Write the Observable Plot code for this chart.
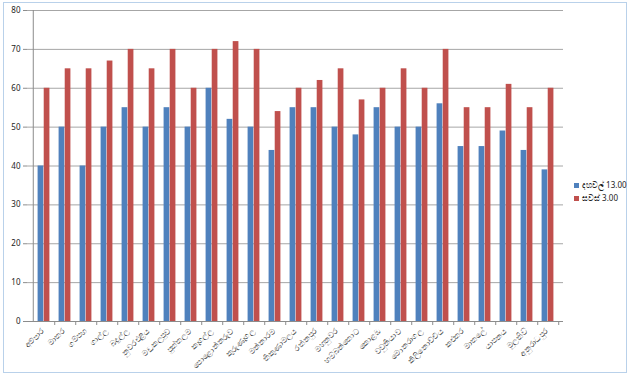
<!DOCTYPE html>
<html>
<head>
<meta charset="utf-8">
<script src="https://cdn.jsdelivr.net/npm/d3@7"></script>
<script src="https://cdn.jsdelivr.net/npm/@observablehq/plot@0.6"></script>
<style>
  html, body { margin: 0; padding: 0; background: #fff; }
  #wrap { position: relative; width: 630px; height: 378px; overflow: hidden; font-family: "Noto Sans", "DejaVu Sans", sans-serif; }
  #frame { position: absolute; left: 3px; top: 2px; right: 3px; bottom: 5px; border: 1px solid #b9d1ea; pointer-events: none; }
  #legend { position: absolute; left: 574px; top: 178px; font-size: 8px; color: #222; line-height: 13px; }
  #legend .sw { display: inline-block; width: 5px; height: 5px; margin-right: 3px; vertical-align: middle; }
</style>
</head>
<body>
<div id="wrap">
  <div id="chart"></div>
  <div id="frame"></div>
  <div id="legend"></div>
</div>
<script>
const categories = ["අම්පාර","මාතර","ගම්පහ","ගාල්ල","බදුල්ල","නුවරඑළිය","මඩකලපුව","පුත්තලම","කෑගල්ල","පොළොන්නරුව","කුරුණෑගල","මන්නාරම","තිකුණාමලය","රත්නපුර","මහනුවර","හම්බන්තොට","කොළඹ","වවුනියාව","මොනරාගල","කිලිනොච්චිය","කළුතර","මාතලේ","යාපනය","මුලතිව්","අනුරාධපුර"];
const seriesNames = ["දහවල් 13.00", "සවස් 3.00"];
const noonValues = [40,50,40,50,55,50,55,50,60,52,50,44,55,55,50,48,55,50,50,56,45,45,49,44,39];
const eveningValues = [60,65,65,67,70,65,70,60,70,72,70,54,60,62,65,57,60,65,60,70,55,55,61,55,60];
const yTicks = [0,10,20,30,40,50,60,70,80];
const colors = ["#4f81bd", "#c0504d"];

const W = 630, H = 378;
const mL = 27, mR = 67, mT = 10, mB = 57;
const step = (W - mL - mR) / categories.length;
const barW = step / 3.5;
const outer = (step - 2 * barW) / 2;

const noon = categories.map((c, i) => ({category: c, value: noonValues[i]}));
const evening = categories.map((c, i) => ({category: c, value: eveningValues[i]}));

const chart = Plot.plot({
  width: W, height: H,
  marginLeft: mL, marginRight: mR, marginTop: mT, marginBottom: mB,
  style: {fontFamily: "'Noto Sans', 'DejaVu Sans', sans-serif", fontSize: "8px", color: "#222", background: "transparent"},
  x: {type: "band", domain: categories, padding: 0, label: null},
  y: {domain: [0, 80], label: null},
  marks: [
    Plot.ruleY(yTicks.filter(d => d > 0), {stroke: "#a6a6a6", strokeWidth: 1}),
    Plot.barY(noon, {x: "category", y: "value", fill: colors[0], insetLeft: outer, insetRight: outer + barW}),
    Plot.barY(evening, {x: "category", y: "value", fill: colors[1], insetLeft: outer + barW, insetRight: outer}),
    Plot.ruleY([0], {stroke: "#8c8c8c"}),
    Plot.ruleX([0], {x: () => categories[0], dx: -step / 2, stroke: "#8c8c8c", y1: 0, y2: 80}),
    Plot.axisY({ticks: yTicks, tickSize: 4, tickPadding: 3, stroke: "#8c8c8c", fontSize: 8, label: null}),
    Plot.axisX({tickSize: 0, tickRotate: -45, textAnchor: "end", tickPadding: 8, fontSize: 8, label: null, dx: -1}),
    Plot.axisX({tickSize: 4, tickFormat: null, stroke: "#8c8c8c", dx: step / 2, label: null})
  ]
});
document.getElementById("chart").appendChild(chart);

const legend = document.getElementById("legend");
seriesNames.forEach((name, i) => {
  const row = document.createElement("div");
  const sw = document.createElement("span");
  sw.className = "sw";
  sw.style.background = colors[i];
  row.appendChild(sw);
  row.appendChild(document.createTextNode(name));
  legend.appendChild(row);
});
</script>
</body>
</html>
